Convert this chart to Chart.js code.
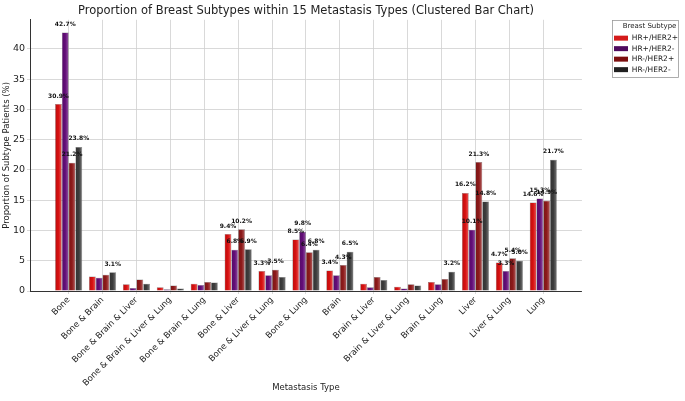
<!DOCTYPE html>
<html>
<head>
<meta charset="utf-8">
<script src="https://cdn.jsdelivr.net/npm/chart.js@4.4.1/dist/chart.umd.min.js"></script>
<style>
  html, body { margin: 0; padding: 0; background: #fff; }
  #wrap { width: 685px; height: 401px; }
</style>
</head>
<body>
<div id="wrap"><canvas id="subtypeChart" width="685" height="401"></canvas></div>
<script>
var categories = ['Bone', 'Bone & Brain', 'Bone & Brain & Liver', 'Bone & Brain & Liver & Lung',
  'Bone & Brain & Lung', 'Bone & Liver', 'Bone & Liver & Lung', 'Bone & Lung', 'Brain',
  'Brain & Liver', 'Brain & Liver & Lung', 'Brain & Lung', 'Liver', 'Liver & Lung', 'Lung'];
var subtypes = ['HR+/HER2+', 'HR+/HER2-', 'HR-/HER2+', 'HR-/HER2-'];
var hrPosHer2Pos = [30.9, 2.4, 1.1, 0.6, 1.2, 9.4, 3.3, 8.5, 3.4, 1.2, 0.7, 1.5, 16.2, 4.7, 14.6];
var hrPosHer2Neg = [42.7, 2.2, 0.5, 0.3, 1.0, 6.8, 2.6, 9.8, 2.6, 0.6, 0.4, 1.1, 10.1, 3.3, 15.3];
var hrNegHer2Pos = [21.2, 2.7, 1.9, 0.9, 1.5, 10.2, 3.5, 6.4, 4.3, 2.3, 1.1, 2.0, 21.3, 5.4, 14.9];
var hrNegHer2Neg = [23.8, 3.1, 1.2, 0.4, 1.4, 6.9, 2.3, 6.8, 6.5, 1.8, 0.9, 3.2, 14.8, 5.0, 21.7];
var yTicks = [0, 5, 10, 15, 20, 25, 30, 35, 40];

var barColors = ['#d81010', '#630d78', '#8e1a1a', '#3c3c3c'];
var legendColors = ['#d41a1a', '#4e0a5e', '#7c0e0e', '#202020'];
var series = [hrPosHer2Pos, hrPosHer2Neg, hrNegHer2Pos, hrNegHer2Neg];

function shade(hex, f) {
  var n = parseInt(hex.slice(1), 16);
  var r = (n >> 16) & 255, g = (n >> 8) & 255, b = n & 255;
  function c(v) { return Math.max(0, Math.min(255, Math.round(f > 1 ? v + (255 - v) * (f - 1) : v * f))); }
  return 'rgb(' + c(r) + ',' + c(g) + ',' + c(b) + ')';
}

// horizontal shading across each bar
function barFill(dsIndex) {
  return function (ctx) {
    var chart = ctx.chart;
    var xs = chart.scales.x;
    if (!xs || ctx.dataIndex === undefined || !chart.chartArea) return barColors[dsIndex];
    var unit = xs.getPixelForValue(1) - xs.getPixelForValue(0);
    var left = xs.getPixelForValue(ctx.dataIndex) + (-0.4 + 0.2 * dsIndex) * unit;
    var g = chart.ctx.createLinearGradient(left, 0, left + 0.2 * unit, 0);
    g.addColorStop(0, shade(barColors[dsIndex], 0.85));
    g.addColorStop(0.5, barColors[dsIndex]);
    g.addColorStop(1, shade(barColors[dsIndex], 1.3));
    return g;
  };
}

var datasets = subtypes.map(function (name, d) {
  return {
    label: name,
    data: series[d].map(function (v, i) { return { x: i, y: v }; }),
    backgroundColor: barFill(d),
    borderColor: 'rgba(0,0,0,0.55)',
    borderWidth: 0.5,
    barPercentage: 1.0,
    categoryPercentage: 0.8
  };
});

var valueLabels = {
  id: 'valueLabels',
  afterDatasetsDraw: function (chart) {
    var ctx = chart.ctx;
    ctx.save();
    ctx.font = 'bold 6px "DejaVu Sans"';
    ctx.fillStyle = '#111';
    ctx.textAlign = 'center';
    ctx.textBaseline = 'bottom';
    chart.data.datasets.forEach(function (ds, d) {
      chart.getDatasetMeta(d).data.forEach(function (bar, i) {
        var v = series[d][i];
        if (v >= 3) ctx.fillText(v.toFixed(1) + '%', bar.x, bar.y - 5);
      });
    });
    ctx.restore();
  }
};

// place the legend box like the reference and frame it
var legendFrame = {
  id: 'legendFrame',
  afterLayout: function (chart) {
    var lg = chart.legend;
    var w = lg.right - lg.left;
    lg.left = 611;
    lg.right = 611 + w;
  },
  afterDraw: function (chart) {
    var ctx = chart.ctx;
    ctx.save();
    ctx.strokeStyle = '#9a9a9a';
    ctx.lineWidth = 0.8;
    ctx.strokeRect(612.5, 20.5, 66, 57);
    ctx.restore();
  }
};

new Chart(document.getElementById('subtypeChart'), {
  type: 'bar',
  data: { datasets: datasets },
  plugins: [valueLabels, legendFrame],
  options: {
    responsive: false,
    animation: false,
    devicePixelRatio: 1,
    layout: { padding: { left: 0, right: 26, top: 0, bottom: 6 } },
    plugins: {
      tooltip: { enabled: false },
      title: {
        display: true,
        fullSize: false,
        text: 'Proportion of Breast Subtypes within 15 Metastasis Types (Clustered Bar Chart)',
        color: '#222',
        font: { family: 'DejaVu Sans', size: 11.5, weight: 'normal' },
        padding: { top: 4, bottom: 2 }
      },
      legend: {
        position: 'right',
        align: 'start',
        title: {
          display: true,
          text: 'Breast Subtype',
          color: '#222',
          font: { family: 'DejaVu Sans', size: 7 },
          padding: { top: 23, bottom: 0 }
        },
        labels: {
          boxWidth: 14,
          boxHeight: 5,
          padding: 3,
          color: '#222',
          font: { family: 'DejaVu Sans', size: 7.5 },
          generateLabels: function (chart) {
            return subtypes.map(function (name, d) {
              return { text: name, fillStyle: legendColors[d], strokeStyle: legendColors[d], lineWidth: 0, datasetIndex: d };
            });
          }
        }
      }
    },
    scales: {
      x: {
        type: 'linear',
        offset: false,
        min: -1.14,
        max: 15.14,
        afterBuildTicks: function (axis) {
          axis.ticks = categories.map(function (c, i) { return { value: i }; });
        },
        afterFit: function (axis) { axis.height = 104; },
        ticks: {
          autoSkip: false,
          minRotation: 45,
          maxRotation: 45,
          color: '#222',
          padding: 1,
          font: { family: 'DejaVu Sans', size: 8.5 },
          callback: function (v) { return categories[v]; }
        },
        grid: { offset: false, color: '#cfcfcf', lineWidth: 0.8, tickLength: 3 },
        border: { color: '#333', width: 1 },
        title: {
          display: true,
          text: 'Metastasis Type',
          color: '#222',
          font: { family: 'DejaVu Sans', size: 8.5 },
          padding: { top: 0, bottom: 2 }
        }
      },
      y: {
        min: 0,
        max: 44.8,
        afterBuildTicks: function (axis) {
          axis.ticks = yTicks.map(function (t) { return { value: t }; });
        },
        afterFit: function (axis) { axis.width = 30; },
        ticks: {
          color: '#222',
          padding: 2,
          font: { family: 'DejaVu Sans', size: 9.5 }
        },
        grid: { color: '#cfcfcf', lineWidth: 0.8, tickLength: 3 },
        border: { color: '#333', width: 1 },
        title: {
          display: true,
          text: 'Proportion of Subtype Patients (%)',
          color: '#222',
          font: { family: 'DejaVu Sans', size: 8.5 },
          padding: { top: 2, bottom: 0 }
        }
      }
    }
  }
});
</script>
</body>
</html>
